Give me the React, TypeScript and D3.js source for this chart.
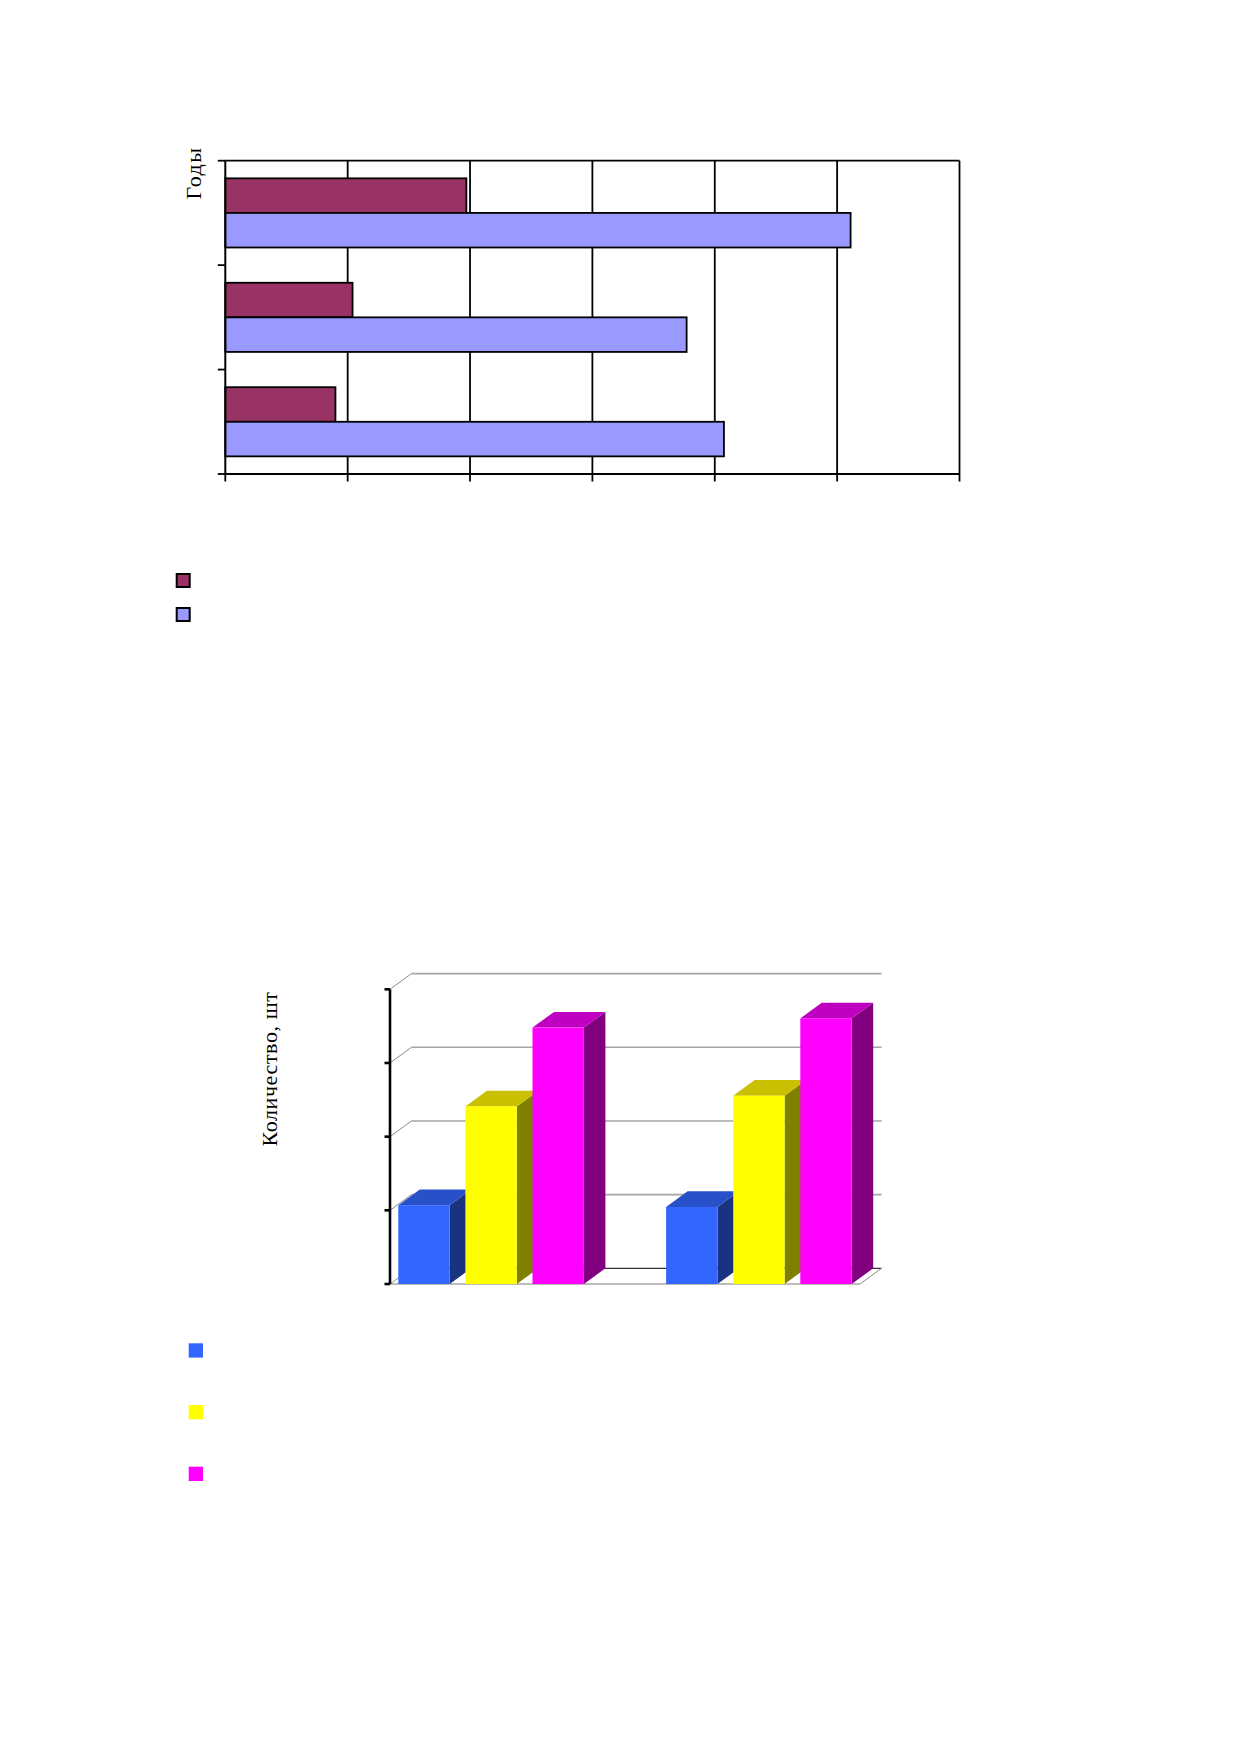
import React from 'react';
import * as d3 from 'd3';

// chart 1: horizontal bars (three years, two series); category labels are blank in the source
const years = ['год 1', 'год 2', 'год 3'];
const seriesA = [0.9, 1.04, 1.97];
const seriesB = [4.075, 3.77, 5.11];
const barSeries = ['A', 'B'];
const xTicks = [0, 1, 2, 3, 4, 5, 6];

// chart 2: 3D columns (two groups, three series)
const groups = ['г1', 'г2'];
const colSeries = ['s1', 's2', 's3'];
const colValues = [
  [1.07, 2.41, 3.48],
  [1.045, 2.555, 3.605],
];
const yTicks = [0, 1, 2, 3, 4];

const serif = '"Liberation Serif", "Times New Roman", serif';

const BarChart: React.FC = () => {
  const left = 225.3, right = 959.5, top = 160.7, bottom = 474;
  const x = d3.scaleLinear().domain([0, 6]).range([left, right]);
  // top-to-bottom: the last year is drawn at the top
  const y = d3.scaleBand<string>().domain([...years].reverse()).range([top, bottom]).padding(0);
  const inner = d3.scaleBand<string>().domain(barSeries).range([0, y.bandwidth()]).paddingInner(0).paddingOuter(0.51);
  const fills: Record<string, string> = { A: '#993366', B: '#9999FF' };

  return (
    <g>
      {xTicks.map(t => (
        <g key={t}>
          {t > 0 && <line x1={x(t)} x2={x(t)} y1={top} y2={bottom} stroke="#000" strokeWidth={1.8} />}
          <line x1={x(t)} x2={x(t)} y1={bottom} y2={bottom + 7.5} stroke="#000" strokeWidth={1.8} />
        </g>
      ))}
      <line x1={left} x2={right} y1={top} y2={top} stroke="#000" strokeWidth={1.8} />
      {years.map((yr, i) => (
        <g key={yr}>
          {barSeries.map(s => {
            const v = s === 'A' ? seriesA[i] : seriesB[i];
            return (
              <rect key={s} x={x(0)} y={(y(yr) ?? 0) + (inner(s) ?? 0)} width={x(v) - x(0)} height={inner.bandwidth()}
                fill={fills[s]} stroke="#000" strokeWidth={1.8} />
            );
          })}
        </g>
      ))}
      {/* category axis ticks at band edges */}
      {[...y.domain().map(d => y(d) ?? 0), bottom].map((p, i) => (
        <line key={i} x1={left - 7.5} x2={left} y1={p} y2={p} stroke="#000" strokeWidth={1.8} />
      ))}
      <line x1={left} x2={left} y1={top} y2={bottom} stroke="#000" strokeWidth={2} />
      <line x1={left} x2={right} y1={bottom} y2={bottom} stroke="#000" strokeWidth={2} />
      <text transform="translate(200.5,173) rotate(-90)" textAnchor="middle" fontFamily={serif} fontSize={22}
        letterSpacing={1.5}>Годы</text>

      {barSeries.map((s, i) => (
        <rect key={s} x={176.7} y={574 + i * 34} width={13} height={13} fill={fills[s]} stroke="#000" strokeWidth={2} />
      ))}
    </g>
  );
};

const ColumnChart: React.FC = () => {
  const axisX = 390, floorEnd = 860;
  const dx = 21.5, dy = 15.7;
  const y = d3.scaleLinear().domain([0, 4]).range([1284, 989.3]);
  const xg = d3.scaleBand<string>().domain(groups).range([axisX, floorEnd]).paddingInner(0.307).paddingOuter(0.031);
  const xs = d3.scaleBand<string>().domain(colSeries).range([0, xg.bandwidth()]).paddingInner(0.234).paddingOuter(0);
  const front: Record<string, string> = { s1: '#3366FF', s2: '#FFFF00', s3: '#FF00FF' };
  const topC: Record<string, string> = { s1: '#2850C8', s2: '#C8C000', s3: '#C000C0' };
  const side: Record<string, string> = { s1: '#1A3380', s2: '#808000', s3: '#800080' };
  const base = y(0);

  return (
    <g>
      {yTicks.map(t => (
        <g key={t}>
          <line x1={axisX + dx} x2={floorEnd + dx} y1={y(t) - dy} y2={y(t) - dy}
            stroke={t === 0 ? '#333' : '#A6A6A6'} strokeWidth={t === 0 ? 1.3 : 1.6} />
          <line x1={axisX} x2={axisX + dx} y1={y(t)} y2={y(t) - dy} stroke="#8C8C8C" strokeWidth={1} />
        </g>
      ))}
      <line x1={axisX} x2={floorEnd} y1={base} y2={base} stroke="#A6A6A6" strokeWidth={1.6} />
      <line x1={floorEnd} x2={floorEnd + dx} y1={base} y2={base - dy} stroke="#8C8C8C" strokeWidth={1} />

      {groups.map((g, gi) =>
        colSeries.map((s, si) => {
          const x0 = (xg(g) ?? 0) + (xs(s) ?? 0);
          const x1 = x0 + xs.bandwidth();
          const yt = y(colValues[gi][si]);
          return (
            <g key={g + s}>
              <polygon points={`${x1},${yt} ${x1 + dx},${yt - dy} ${x1 + dx},${base - dy} ${x1},${base}`} fill={side[s]} />
              <polygon points={`${x0},${yt} ${x1},${yt} ${x1 + dx},${yt - dy} ${x0 + dx},${yt - dy}`} fill={topC[s]} />
              <rect x={x0} y={yt} width={x1 - x0} height={base - yt} fill={front[s]} />
            </g>
          );
        })
      )}

      <line x1={axisX} x2={axisX} y1={y(4)} y2={base} stroke="#000" strokeWidth={2.6} />
      {yTicks.map(t => (
        <line key={t} x1={axisX - 5.5} x2={axisX} y1={y(t)} y2={y(t)} stroke="#000" strokeWidth={2.6} />
      ))}
      <text transform="translate(276.5,1069) rotate(-90)" textAnchor="middle" fontFamily={serif} fontSize={22}
        letterSpacing={0.6}>Количество, шт</text>

      {colSeries.map((s, i) => (
        <rect key={s} x={188.7} y={1343.3 + i * 61.7} width={14.3} height={14.3} fill={front[s]} />
      ))}
    </g>
  );
};

export default function App() {
  return (
    <svg width={1239} height={1754} viewBox="0 0 1239 1754"
      style={{ position: 'absolute', left: 0, top: 0, background: '#fff' }}>
      <rect width={1239} height={1754} fill="#fff" />
      <BarChart />
      <ColumnChart />
    </svg>
  );
}
